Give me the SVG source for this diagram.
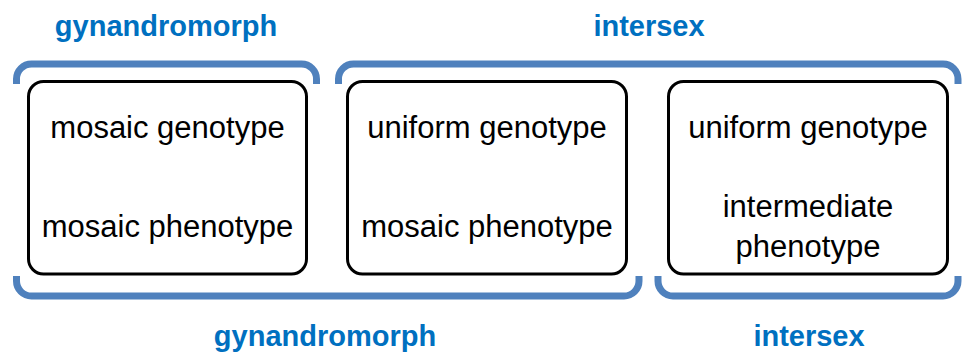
<svg xmlns="http://www.w3.org/2000/svg" width="963" height="354" viewBox="0 0 963 354">
<style>
.box{fill:#fff;stroke:#000;stroke-width:3}
.br{fill:none;stroke:#4F81BD;stroke-width:7;stroke-linecap:butt}
.t{font-family:"Liberation Sans",Arial,sans-serif;font-size:31px;fill:#000;text-anchor:middle}
.lbl{font-family:"Liberation Sans",Arial,sans-serif;font-size:29px;font-weight:bold;fill:#0070C0;text-anchor:middle}
</style>
<rect width="963" height="354" fill="#fff"/>
<g id="connectors">
<path class="br" d="M16.5,84 V79 A15,15 0 0 1 31.5,64 H301.5 A15,15 0 0 1 316.5,79 V84"/>
<path class="br" d="M338.5,84 V79 A15,15 0 0 1 353.5,64 H943 A15,15 0 0 1 958,79 V84"/>
<path class="br" d="M16.5,276 V281 A15,15 0 0 0 31.5,296 H624 A15,15 0 0 0 639,281 V276"/>
<path class="br" d="M658,276 V281 A15,15 0 0 0 673,296 H943 A15,15 0 0 0 958,281 V276"/>
</g>
<g id="label-top-gynandromorph"><text class="lbl" x="166" y="36">gynandromorph</text></g>
<g id="label-top-intersex"><text class="lbl" x="649" y="36">intersex</text></g>
<g id="label-bottom-gynandromorph"><text class="lbl" x="325" y="346">gynandromorph</text></g>
<g id="label-bottom-intersex"><text class="lbl" x="809" y="346">intersex</text></g>
<g id="box1">
<rect class="box" x="28.5" y="81.5" width="278" height="192.5" rx="15"/>
<text class="t" x="167.5" y="138">mosaic genotype</text>
<text class="t" x="167.5" y="237">mosaic phenotype</text>
</g>
<g id="box2">
<rect class="box" x="347.5" y="81.5" width="279" height="192.5" rx="15"/>
<text class="t" x="487" y="138">uniform genotype</text>
<text class="t" x="487" y="237">mosaic phenotype</text>
</g>
<g id="box3">
<rect class="box" x="668.5" y="81.5" width="279" height="192.5" rx="15"/>
<text class="t" x="808" y="138">uniform genotype</text>
<text class="t" x="808" y="217">intermediate</text>
<text class="t" x="808" y="257">phenotype</text>
</g>
</svg>
